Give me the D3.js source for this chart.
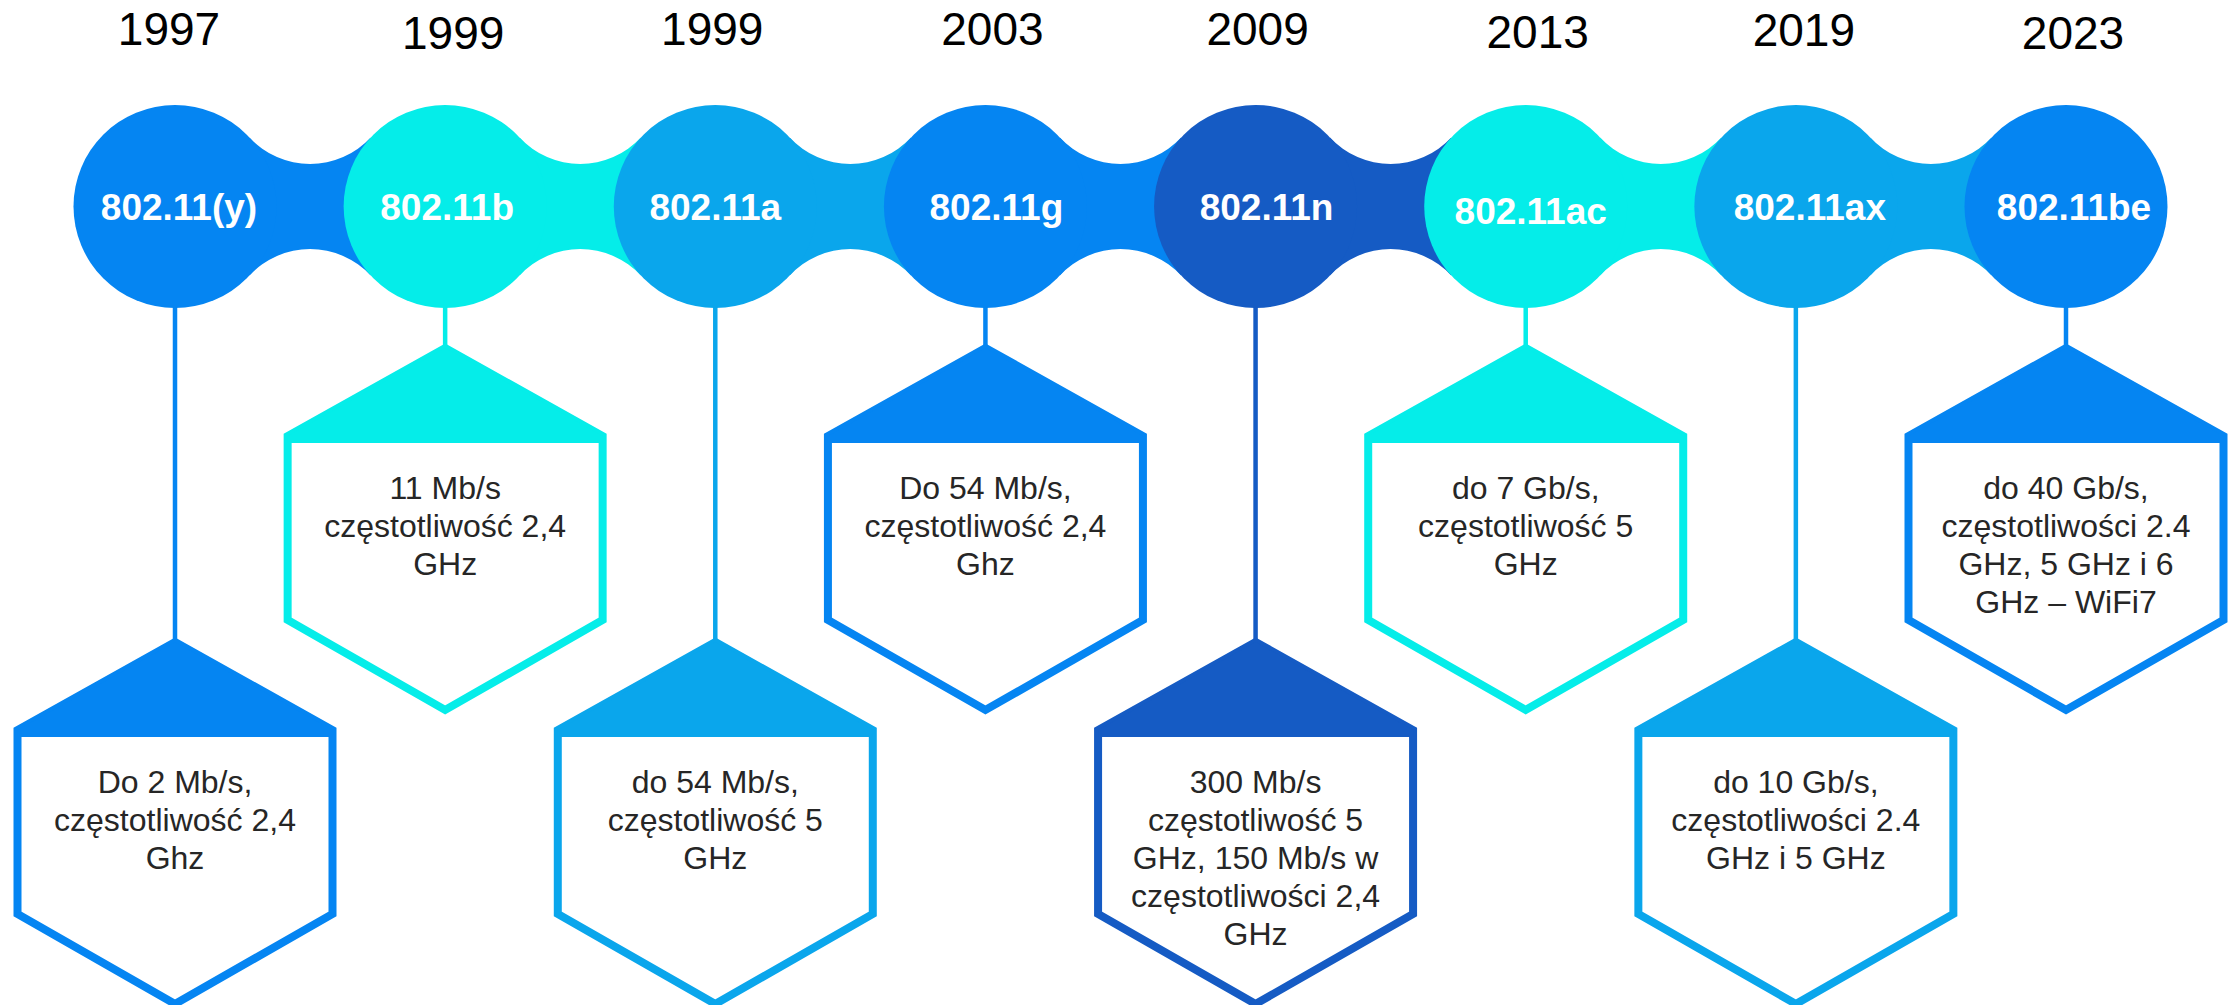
<!DOCTYPE html>
<html>
<head>
<meta charset="utf-8">
<script src="https://cdn.jsdelivr.net/npm/d3@7"></script>
<style>
  html, body { margin: 0; padding: 0; background: #fff; }
  svg { display: block; }
</style>
</head>
<body>
<svg id="timeline" width="2234" height="1005"></svg>
<script>
// Data
const standards = ["802.11(y)", "802.11b", "802.11a", "802.11g", "802.11n", "802.11ac", "802.11ax", "802.11be"];
const years = ["1997", "1999", "1999", "2003", "2009", "2013", "2019", "2023"];
const descriptions = [
    ["Do 2 Mb/s,", "częstotliwość 2,4", "Ghz"],
    ["11 Mb/s", "częstotliwość 2,4", "GHz"],
    ["do 54 Mb/s,", "częstotliwość 5", "GHz"],
    ["Do 54 Mb/s,", "częstotliwość 2,4", "Ghz"],
    ["300 Mb/s", "częstotliwość 5", "GHz, 150 Mb/s w", "częstotliwości 2,4", "GHz"],
    ["do 7 Gb/s,", "częstotliwość 5", "GHz"],
    ["do 10 Gb/s,", "częstotliwości 2.4", "GHz i 5 GHz"],
    ["do 40 Gb/s,", "częstotliwości 2.4", "GHz, 5 GHz i 6", "GHz – WiFi7"]
];
const colors = ["#0585F2", "#05EDE9", "#0AA6EC", "#0585F2", "#155BC4", "#05EDE9", "#0AA6EC", "#0585F2"];

// Small hand-placement quirks of the original picture (layout only)
const yearShift = [[-6, 45], [8, 49], [-3, 45], [7, 45], [2, 45], [12, 48], [8, 46], [7, 49]];
const labelShift = [[4, 0], [2, 0], [0, 0], [11, 0], [11, 0], [5, 4], [14, 0], [8, 0]];

const svg = d3.select("#timeline");
const fontFamily = "'Liberation Sans', Arial, Helvetica, sans-serif";

// Layout
const cy = 206.5;       // circle centre line
const r = 101.5;        // circle radius
const neck = 42.5;      // half height of connector at its narrowest
const hex = { halfW: 157.5, shoulder: 88, side: 184, tip: 90, stroke: 8 };
const hexTop = { high: 348, low: 642 };

const x = d3.scalePoint()
    .domain(d3.range(standards.length))
    .range([175, 2066]);

const items = standards.map((s, i) => ({
    i, standard: s, year: years[i], lines: descriptions[i], color: colors[i],
    cx: x(i), top: i % 2 === 1 ? hexTop.high : hexTop.low
}));

/**
 * Connector between two neighbouring circles, bounded above and below
 * by cut-out circles tangent to both of them.
 */
function connectorPath(a, b) {
    const h = (b - a) / 2;
    const rc = (h * h + neck * neck - r * r) / (2 * (r - neck));
    const k = neck + rc;
    const dist = r + rc;
    const ux = r * h / dist, uy = r * k / dist;
    return `M${a + ux},${cy - uy} A${rc},${rc} 0 0 0 ${b - ux},${cy - uy} ` +
           `L${b - ux},${cy + uy} A${rc},${rc} 0 0 0 ${a + ux},${cy + uy} Z`;
}

// Connectors (in the colour of the left circle)
svg.append("g").selectAll("path")
    .data(items.slice(0, -1))
    .enter().append("path")
    .attr("d", d => connectorPath(d.cx, x(d.i + 1)))
    .attr("fill", d => d.color);

// Stems
svg.append("g").selectAll("line")
    .data(items)
    .enter().append("line")
    .attr("x1", d => d.cx)
    .attr("x2", d => d.cx)
    .attr("y1", cy + r - 2)
    .attr("y2", d => d.top)
    .attr("stroke", d => d.color)
    .attr("stroke-width", 4.5);

// Circles
svg.append("g").selectAll("circle")
    .data(items)
    .enter().append("circle")
    .attr("cx", d => d.cx)
    .attr("cy", cy)
    .attr("r", r)
    .attr("fill", d => d.color);

// Circle labels
svg.append("g").selectAll("text")
    .data(items)
    .enter().append("text")
    .attr("x", d => d.cx + labelShift[d.i][0])
    .attr("y", d => cy + 13.3 + labelShift[d.i][1])
    .attr("text-anchor", "middle")
    .attr("fill", "#fff")
    .style("font-family", fontFamily)
    .style("font-weight", "bold")
    .style("font-size", "37px")
    .text(d => d.standard);

// Years
svg.append("g").selectAll("text")
    .data(items)
    .enter().append("text")
    .attr("x", d => d.cx + yearShift[d.i][0])
    .attr("y", d => yearShift[d.i][1])
    .attr("text-anchor", "middle")
    .attr("fill", "#000")
    .style("font-family", fontFamily)
    .style("font-size", "46px")
    .text(d => d.year);

// Hexagon boxes
const boxes = svg.append("g").selectAll("g")
    .data(items)
    .enter().append("g")
    .attr("transform", d => `translate(${d.cx},${d.top})`);

const s1 = hex.shoulder, s2 = hex.shoulder + hex.side, s3 = s2 + hex.tip;

boxes.append("path")
    .attr("d", `M0,0 L${hex.halfW},${s1} L${hex.halfW},${s2} L0,${s3} L${-hex.halfW},${s2} L${-hex.halfW},${s1} Z`)
    .attr("fill", "#fff")
    .attr("stroke", d => d.color)
    .attr("stroke-width", hex.stroke)
    .attr("stroke-linejoin", "miter");

// Filled roof of each box
boxes.append("path")
    .attr("d", `M0,0 L${hex.halfW},${s1} L${hex.halfW},${s1 + 7} L${-hex.halfW},${s1 + 7} L${-hex.halfW},${s1} Z`)
    .attr("fill", d => d.color);

boxes.append("text")
    .attr("text-anchor", "middle")
    .attr("fill", "#262626")
    .style("font-family", fontFamily)
    .style("font-size", "32px")
    .selectAll("tspan")
    .data(d => d.lines)
    .enter().append("tspan")
    .attr("x", 0)
    .attr("y", (l, j) => 151 + j * 38)
    .text(l => l);
</script>
</body>
</html>
